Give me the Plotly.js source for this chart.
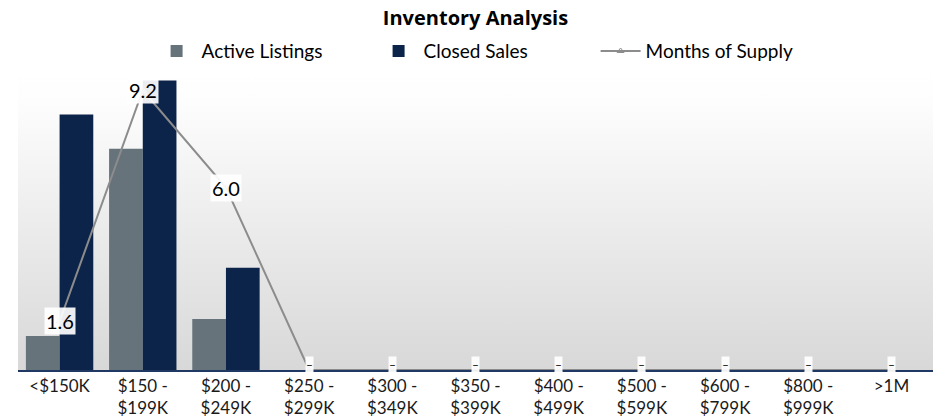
<!DOCTYPE html>
<html>
<head>
<meta charset="utf-8">
<script src="https://cdn.plot.ly/plotly-3.0.1.min.js"></script>
<style>html,body{margin:0;padding:0;background:#fff;}#chart{width:935px;height:420px;}</style>
</head>
<body>
<div id="chart"></div>
<script>
var categories = ["<$150K", "$150 -<br>$199K", "$200 -<br>$249K", "$250 -<br>$299K", "$300 -<br>$349K", "$350 -<br>$399K", "$400 -<br>$499K", "$500 -<br>$599K", "$600 -<br>$799K", "$800 -<br>$999K", ">1M"];
var activeListings = [4, 26, 6, 0, 0, 0, 0, 0, 0, 0, 0];
var closedSales = [30, 34, 12, 0, 0, 0, 0, 0, 0, 0, 0];
var monthsOfSupply = [1.6, 9.2, 6.0, 0, 0, 0, 0, 0, 0, 0, 0];

var FONT = "Lato, 'Open Sans', sans-serif";

var traces = [
  {type: "bar", name: "Active Listings", x: categories, y: activeListings,
   marker: {color: "#67737b"}, hoverinfo: "y"},
  {type: "bar", name: "Closed Sales", x: categories, y: closedSales,
   marker: {color: "#0c2449"}, hoverinfo: "y"},
  {type: "scatter", mode: "lines+markers", name: "Months of Supply", x: categories, y: monthsOfSupply,
   yaxis: "y2", cliponaxis: false,
   line: {color: "#8c8c8c", width: 2},
   marker: {symbol: "triangle-up-open", size: 6, color: "#8c8c8c"}}
];

var annotations = monthsOfSupply.map(function (v, i) {
  var nz = v > 0;
  return {
    x: categories[i], y: v, xref: "x", yref: "y2",
    text: nz ? v.toFixed(1) : "–",
    showarrow: false,
    font: {family: FONT, size: nz ? 20 : 12, color: "#000"},
    bgcolor: "rgba(255,255,255,0.92)",
    borderpad: nz ? 1 : 0,
    xanchor: "center", yanchor: nz ? "middle" : "bottom",
    yshift: nz ? 0 : -3
  };
});

var svg = '<svg xmlns="http://www.w3.org/2000/svg" width="100" height="100" preserveAspectRatio="none">' +
  '<defs><linearGradient id="g" x1="0" y1="0" x2="0" y2="1">' +
  '<stop offset="0" stop-color="#ffffff"/><stop offset="0.1" stop-color="#fdfdfd"/>' +
  '<stop offset="1" stop-color="#d8d8d8"/></linearGradient></defs>' +
  '<rect width="100" height="100" fill="url(#g)"/></svg>';

var layout = {
  width: 935, height: 420,
  margin: {l: 18, r: 2, t: 72, b: 50},
  paper_bgcolor: "#ffffff",
  plot_bgcolor: "rgba(0,0,0,0)",
  font: {family: FONT, size: 17, color: "#1a1a1a"},
  title: {text: "<b>Inventory Analysis</b>", x: 0.5, xref: "paper", y: 0.957, yanchor: "middle",
          font: {family: "'Open Sans', sans-serif", size: 20, color: "#000"}},
  showlegend: true,
  legend: {orientation: "h", x: 0.146, xanchor: "left", y: 1.07, yanchor: "middle",
           font: {family: FONT, size: 19, color: "#000"}, itemwidth: 40, entrywidth: 167,
           traceorder: "normal"},
  barmode: "group",
  bargap: 0.19,
  bargroupgap: 0,
  xaxis: {range: [-0.5, 10.5], showline: true, linecolor: "#1f3864", linewidth: 1.5, ticks: "",
          showgrid: false, zeroline: false, layer: "below traces",
          tickfont: {family: FONT, size: 17, color: "#1a1a1a"}, fixedrange: true},
  yaxis: {range: [0, 35], visible: false, showgrid: false, zeroline: false, fixedrange: true},
  yaxis2: {range: [0, 9.8], overlaying: "y", side: "right", visible: false, showgrid: false,
           zeroline: false, fixedrange: true},
  annotations: annotations,
  images: [{source: "data:image/svg+xml;charset=utf-8," + encodeURIComponent(svg),
            xref: "paper", yref: "paper", x: 0, y: 1, sizex: 1, sizey: 1,
            sizing: "stretch", xanchor: "left", yanchor: "top", layer: "below"}]
};

Plotly.newPlot("chart", traces, layout, {displayModeBar: false, staticPlot: true});
</script>
</body>
</html>
